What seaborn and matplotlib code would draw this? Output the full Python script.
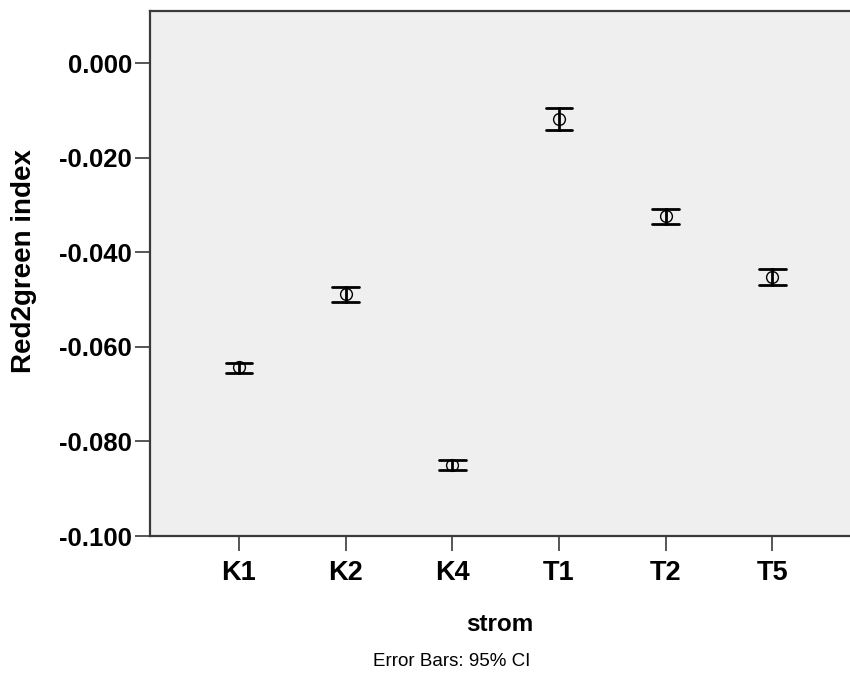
import numpy as np
import pandas as pd
import matplotlib
matplotlib.use("Agg")
import matplotlib.pyplot as plt
import seaborn as sns

# Values (mean and 95% CI per group)
strom = ["K1", "K2", "K4", "T1", "T2", "T5"]
mean_val = [-0.0643, -0.0489, -0.0850, -0.0118, -0.0324, -0.0453]
ci_low = [-0.0655, -0.0504, -0.0860, -0.0141, -0.0340, -0.0470]
ci_high = [-0.0633, -0.0474, -0.0839, -0.0095, -0.0309, -0.0436]
yticks = [0.000, -0.020, -0.040, -0.060, -0.080, -0.100]

# long table: low / mean / high per group, median picks the mean,
# min-max gives the CI
df = pd.DataFrame({
    "strom": np.repeat(strom, 3),
    "value": np.ravel(np.column_stack([ci_low, mean_val, ci_high])),
})

sns.set_style("white")
plt.rcParams["font.family"] = ["Liberation Sans", "DejaVu Sans"]
plt.rcParams["text.color"] = "black"
plt.rcParams["axes.labelcolor"] = "black"
plt.rcParams["xtick.color"] = "black"
plt.rcParams["ytick.color"] = "black"

fig = plt.figure(figsize=(8.5, 6.95), dpi=100)
ax = fig.add_axes([150 / 850, 159 / 695, 700 / 850, 525 / 695])
ax.set_facecolor("#efefef")

sns.pointplot(data=df, x="strom", y="value", order=strom,
              estimator=np.median, errorbar=lambda v: (v.min(), v.max()),
              linestyle="none", color="black", markers="o",
              markersize=8.5, markerfacecolor="none", markeredgewidth=1.0,
              capsize=0.25, err_kws={"linewidth": 2.0}, ax=ax)

ax.set_xlim(-0.834, 5.727)
ax.set_ylim(-0.100, 0.01106)
ax.set_yticks(yticks)
ax.set_yticklabels(["%.3f" % t for t in yticks], fontsize=18.5,
                   fontweight="bold")
ax.set_xticks(range(len(strom)))
ax.set_xticklabels(strom, fontsize=19.5, fontweight="bold")

for side in ["left", "bottom", "top"]:
    ax.spines[side].set_color("#3a3a3a")
    ax.spines[side].set_linewidth(1.6)
ax.spines["right"].set_visible(False)
ax.tick_params(axis="both", direction="out", length=11, width=1.2,
               color="#3a3a3a", left=True, bottom=True)
ax.tick_params(axis="y", pad=2)
ax.tick_params(axis="x", pad=6)

ax.set_xlabel("strom", fontsize=17.5, fontweight="bold", labelpad=20)
ax.set_ylabel("Red2green index", fontsize=20, fontweight="bold")
ax.yaxis.set_label_coords(-0.1614, 0.523)

fig.text(452 / 850, 1 - 661 / 695, "Error Bars: 95% CI", ha="center",
         va="center", fontsize=13.5)

fig.savefig("out.png", dpi=100)
